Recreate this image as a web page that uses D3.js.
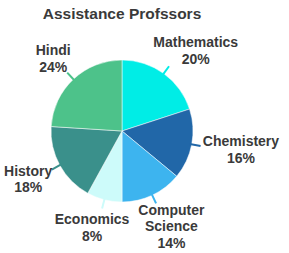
<!DOCTYPE html>
<html>
<head>
<meta charset="utf-8">
<script src="https://cdn.jsdelivr.net/npm/d3@7"></script>
<style>
  html, body { margin: 0; padding: 0; background: #fff; }
  svg { display: block; font-family: "Liberation Sans", Arial, sans-serif; }
  .title { font-size: 15.5px; font-weight: bold; fill: #3a3a3a; }
  .slice-lbl { font-size: 14px; font-weight: bold; fill: #3a3a3a; }
</style>
</head>
<body>
<svg id="chart"></svg>
<script>
// Assistant professors by subject
const SUBJECTS = ["Mathematics", "Chemistery", "Computer Science", "Economics", "History", "Hindi"];
const SHARES   = [20, 16, 14, 8, 18, 24];
const COLORS   = ["#00ede6", "#2167a8", "#3db4ef", "#cdfbfa", "#3a908b", "#4dc28a"];

const VW = 289, VH = 253;
const svg = d3.select("#chart").attr("width", VW).attr("height", VH);

svg.append("text").attr("class", "title")
  .attr("x", 122).attr("y", 18.5)
  .attr("text-anchor", "middle")
  .text("Assistance Profssors");

const cx = 122, cy = 131, R = 71;
const g = svg.append("g").attr("transform", `translate(${cx},${cy})`);

const data = SUBJECTS.map((s, i) => ({ name: s, value: SHARES[i], color: COLORS[i] }));
const pie = d3.pie().value(d => d.value).sort(null);
const arc = d3.arc().innerRadius(0).outerRadius(R);
const arcs = pie(data);

g.selectAll("path.slice")
  .data(arcs)
  .join("path")
  .attr("class", "slice")
  .attr("d", arc)
  .attr("fill", d => d.data.color)
  .attr("stroke", "#fff")
  .attr("stroke-width", 0.5);

// ── Leader lines + outside-end labels ─────────────────────────────────────
// label box sits just outside the pie, its nearest side facing the slice middle
const mid = d => (d.startAngle + d.endAngle) / 2;
const GAP = 12, LH = 16.5;

arcs.forEach(d => {
  const a = mid(d);
  const s = Math.sin(a), c = -Math.cos(a);
  g.append("line")
    .attr("x1", s * (R - 2)).attr("y1", c * (R - 2))
    .attr("x2", s * (R + 9)).attr("y2", c * (R + 9))
    .attr("stroke", d.data.color).attr("stroke-width", 2);

  const lines = d.data.name.split(" ").concat([d.data.value + "%"]);
  const t = g.append("text").attr("class", "slice-lbl").attr("text-anchor", "middle");
  const spans = lines.map(l => t.append("tspan").text(l));
  const w = d3.max(spans, sp => sp.node().getComputedTextLength());
  const h = lines.length * LH;

  let lx = s * (R + GAP) + s * w / 2;
  let ly = c * (R + GAP) + c * h / 2;
  // keep the box inside the frame
  lx = Math.max(-cx + w / 2 + 2, Math.min(VW - cx - w / 2 - 2, lx));
  ly = Math.max(-cy + h / 2 + 2, Math.min(VH - cy - h / 2 - 2, ly));

  spans.forEach((sp, i) => {
    sp.attr("x", lx).attr("y", ly - (lines.length - 1) * LH / 2 + i * LH + 5);
  });
});
</script>
</body>
</html>
